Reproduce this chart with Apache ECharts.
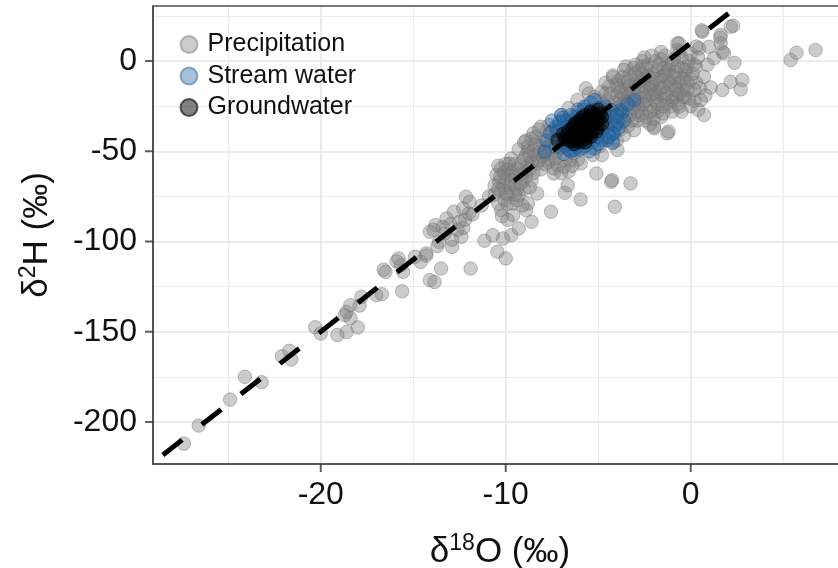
<!DOCTYPE html>
<html>
<head>
<meta charset="utf-8">
<script src="https://cdn.jsdelivr.net/npm/echarts@6/dist/echarts.min.js"></script>
<style>
html,body{margin:0;padding:0;background:#fff;}
#chart{width:838px;height:568px;}
</style>
</head>
<body>
<div id="chart"></div>
<script>
// ---- Axis ranges and tick values ----
const xLimits = [-29.07, 8.45];
const yLimits = [-223.3, 30.5];
const xMajorTicks = [-20, -10, 0];
const xMinorTicks = [-25, -15, -5, 5];
const yMajorTicks = [-200, -150, -100, -50, 0];
const yMinorTicks = [-175, -125, -75, -25, 25];

// ---- Reference water line (dashed): d2H = slope * d18O + intercept ----
const lineSlope = 8;
const lineIntercept = 10;

// ---- Series names ----
const seriesNames = ['Precipitation', 'Stream water', 'Groundwater'];

// ---- Precipitation samples [d18O, d2H] ----
const precipitation = [
  [-27.4,-212.0],[-26.6,-202.0],[-24.9,-187.6],[-24.1,-175.0],[-23.2,-178.0],[-22.1,-163.6],
  [-21.7,-160.6],[-21.6,-165.4],[-20.3,-147.5],[-20.0,-151.0],[-19.1,-151.8],[-18.6,-150.2],
  [-18.0,-147.6],[-18.7,-140.8],[-18.4,-142.5],[-18.6,-139.0],[-18.4,-135.3],[-17.9,-135.5],
  [-17.8,-130.7],[-17.0,-129.7],[-16.7,-129.2],[-15.6,-127.6],
  [-16.5,-116.8],[-16.6,-115.6],[-15.9,-111.0],[-15.65,-113.1],[-15.8,-109.4],[-15.55,-116.8],
  [-14.9,-108.5],[-14.6,-111.3],[-14.3,-106.6],[-14.3,-107.8],[-14.1,-121.4],[-13.85,-122.4],[-13.5,-115.0],
  [-14.1,-94.6],[-13.8,-90.9],[-13.9,-93.5],[-13.6,-100.2],[-13.7,-102.5],[-13.2,-87.2],[-13.0,-90.5],
  [-12.9,-103.0],[-12.9,-99.0],[-12.8,-83.5],[-12.5,-89.1],[-12.4,-97.4],[-12.3,-81.7],[-12.15,-75.2],
  [-11.95,-78.0],[-12.0,-84.5],[-12.2,-88.0],[-12.6,-93.5],[-12.3,-92.5],[-11.8,-85.0],[-13.3,-95.5],
  [-13.4,-92.0],[-11.9,-115.0],
  [-10.25,-59.5],[-9.9,-60.4],[-9.5,-64.2],[-9.1,-66.9],[-10.35,-66.9],[-10.25,-71.5],[-10.05,-77.1],
  [-9.3,-74.3],[-8.8,-78.9],[-8.3,-73.4],[-10.25,-82.6],[-9.6,-85.4],[-8.9,-82.6],[-9.3,-92.8],
  [-8.6,-89.1],[-9.7,-96.5],[-10.15,-98.3],[-10.7,-96.5],[-11.15,-99.6],[-10.45,-105.7],[-10.0,-109.4],
  [-7.55,-83.5],[-10.0,-65.0],[-9.8,-70.0],[-9.5,-68.5],[-9.9,-74.0],[-9.6,-79.0],[-10.5,-63.0],
  [-10.6,-69.0],[-9.7,-54.0],[-8.3,-56.7],[-7.9,-52.1],[-7.4,-62.3],[-8.9,-61.5],[-9.2,-57.0],
  [-8.6,-66.0],[-9.0,-71.0],[-10.9,-75.0],[-11.3,-80.0],
  [-10.4,-58.0],[-10.1,-62.0],[-9.8,-57.0],[-9.6,-61.0],[-9.4,-71.0],[-9.2,-63.0],[-10.1,-69.0],
  [-9.9,-79.0],[-9.4,-77.0],[-9.1,-80.0],[-8.7,-70.0],[-8.5,-62.0],[-8.8,-58.0],[-10.6,-74.0],
  [-10.4,-79.0],[-9.7,-66.0],[-10.2,-86.0],[-9.9,-88.0],
  [-10.3,-64.0],[-10.0,-57.0],[-9.7,-62.0],[-9.5,-57.0],[-9.3,-60.0],[-9.0,-54.0],[-8.8,-50.0],
  [-8.6,-56.0],[-8.4,-52.0],[-8.2,-47.0],[-8.0,-53.0],[-7.8,-48.0],[-7.7,-56.0],[-7.5,-51.0],
  [-9.2,-68.0],[-8.9,-64.0],[-8.7,-60.0],[-9.5,-74.0],[-10.0,-73.0],[-10.4,-71.0],[-9.3,-49.0],
  [-8.9,-44.0],[-8.5,-40.0],
  [-6.8,-73.0],[-6.65,-68.8],[-5.95,-76.7],[-5.1,-62.3],[-4.3,-66.9],[-3.25,-67.8],[-4.1,-80.8],
  [-4.25,-66.0],
  [-8.8,-47.5],[-8.35,-42.0],[-7.65,-35.5],[-7.55,-43.8],[-7.55,-54.9],[-7.2,-57.7],[-7.4,-59.5],
  [-6.85,-58.6],[-5.95,-56.7],[-6.1,-54.5],[-8.5,-50.0],[-8.0,-45.0],[-8.2,-55.0],[-7.8,-39.0],
  [-7.2,-50.0],[-6.5,-55.0],[-6.9,-47.5],[-6.3,-51.0],[-8.1,-60.0],[-7.0,-62.0],[-6.12,-21.6],
  [-5.67,-15.1],[-5.5,-18.0],[-6.6,-26.0],[-6.9,-33.0],[-7.3,-38.0],
  [-9.0,-45.0],[-8.7,-53.0],[-8.4,-46.0],[-8.1,-50.0],[-7.9,-57.0],[-7.7,-51.0],[-7.5,-39.0],
  [-7.3,-54.0],[-7.1,-42.0],[-6.8,-55.0],[-6.6,-61.0],[-6.4,-58.0],[-8.9,-52.0],[-8.6,-43.0],
  [-8.2,-38.0],[-8.1,-36.4],
  [-7.0,-30.0],[-6.7,-36.0],[-6.4,-31.0],[-6.2,-42.0],[-6.0,-28.0],[-5.8,-48.0],[-5.6,-25.0],
  [-5.4,-44.0],[-5.2,-33.0],[-5.0,-40.0],[-4.9,-47.0],[-4.7,-36.0],[-4.6,-44.0],[-4.4,-39.0],
  [-4.1,-35.0],[-4.0,-44.0],[-3.8,-38.0],[-5.3,-52.0],[-4.8,-52.0],[-6.6,-46.0],[-7.1,-48.0],[-7.6,-47.0],
  [-3.96,-49.3],[-4.23,-45.6],[-3.6,-41.0],[-3.06,-38.3],[-1.98,-36.4],[-1.26,-40.1],[-1.2,-39.0],[-1.98,-37.3],
  [-5.2,-20.0],[-5.0,-26.0],[-4.8,-17.0],[-4.7,-30.0],[-4.5,-22.0],[-4.4,-14.0],[-4.3,-34.0],[-4.2,-27.0],
  [-4.0,-19.0],[-3.9,-11.0],[-3.8,-31.0],[-3.7,-24.0],[-3.5,-16.0],[-3.4,-36.0],[-3.3,-8.0],
  [-3.3,-28.0],[-3.2,-21.0],[-3.0,-13.0],[-2.9,-33.0],[-2.8,-5.0],[-2.8,-25.0],[-2.7,-18.0],[-2.6,-29.0],
  [-2.5,-10.0],[-2.4,-22.0],[-2.3,-2.0],[-2.2,-35.0],[-2.2,-15.0],[-2.0,-27.0],[-2.0,-7.0],[-1.9,0.0],
  [-1.8,-20.0],[-1.7,-12.0],[-1.6,-31.0],[-1.5,-4.0],[-1.4,3.0],[-1.3,-24.0],[-1.2,-16.0],[-1.1,-8.0],
  [-1.0,-28.0],[-0.9,1.0],[-0.8,-20.0],[-0.7,-12.0],[-0.6,5.0],[-0.5,-4.0],[-0.4,-16.0],
  [-3.6,-19.0],[-3.1,-26.0],[-2.5,-14.0],[-2.1,-19.0],[-1.6,-9.0],[-1.2,-2.0],[-2.9,-9.0],[-3.5,-3.0],
  [-2.6,0.0],[-1.8,-28.0],[-2.4,-31.0],[-1.0,-20.0],[-0.3,-8.0],[-0.1,0.0],[-4.2,-9.0],[-4.6,-12.0],
  [-4.9,-22.0],[-4.6,-18.0],[-4.4,-26.0],[-4.1,-23.0],[-3.9,-15.0],[-3.8,-21.0],[-3.6,-12.0],[-3.6,-27.0],
  [-3.4,-20.0],[-3.3,-14.0],[-3.1,-4.0],[-3.1,-17.0],[-2.9,-22.0],[-2.7,-11.0],[-2.6,-7.0],[-2.5,-20.0],
  [-2.4,-4.0],[-2.3,-12.0],[-2.2,-25.0],[-2.1,-9.0],[-2.0,-16.0],[-1.9,-22.0],[-1.8,-5.0],[-1.7,-17.0],
  [-1.6,1.0],[-1.5,-14.0],[-1.4,-21.0],[-1.3,-6.0],[-1.2,-11.0],[-1.1,-25.0],[-1.0,-1.0],[-0.9,-14.0],
  [-0.8,-6.0],[-0.6,-18.0],[-0.5,2.0],[-0.4,-10.0],[-0.2,-3.0],[0.0,4.0],[0.1,-7.0],[0.3,8.0],
  [-3.9,-26.0],[-3.5,-31.0],[-3.2,-33.0],[-2.8,-30.0],[-2.5,-33.0],[-4.3,-30.0],[-4.7,-24.0],[-4.5,-29.0],
  [-4.2,-8.0],[-3.6,-5.0],[-3.0,-2.0],[-2.5,2.0],[-2.1,3.0],[-1.6,5.0],
  [-4.3,-18.0],[-4.0,-13.0],[-3.8,-17.0],[-3.7,-9.0],[-3.5,-23.0],[-3.4,-11.0],[-3.2,-16.0],[-3.0,-24.0],
  [-3.0,-7.0],[-2.8,-14.0],[-2.7,-21.0],[-2.6,-3.0],[-2.4,-17.0],[-2.3,-8.0],[-2.2,-28.0],[-2.1,-13.0],
  [-1.9,-10.0],[-1.9,-18.0],[-1.8,-24.0],[-1.7,-2.0],[-1.6,-15.0],[-1.5,-25.0],[-1.4,-8.0],[-1.3,-18.0],
  [-1.2,-5.0],[-1.1,-13.0],[-1.0,-22.0],[-0.9,-9.0],[-0.8,-16.0],[-0.7,-3.0],[-0.7,-24.0],[-0.5,-12.0],
  [-0.4,-20.0],[-0.3,-5.0],[-0.2,-16.0],[0.0,-10.0],[0.2,-2.0],[0.3,-12.0],[-2.9,-28.0],[-3.3,-30.0],
  [-2.0,-32.0],[-1.5,-29.0],[-2.6,-24.0],[-3.7,-34.0],
  [0.2,-22.0],[0.5,-15.0],[-0.3,-20.0],[0.0,-25.0],[0.4,-27.0],[-0.5,-28.0],[0.8,-19.0],
  [-0.63,9.8],[0.45,7.0],[0.99,7.9],[0.63,16.2],[1.62,14.4],[1.62,9.8],[1.71,5.2],[2.16,19.0],
  [2.3,19.5],[2.37,-1.0],[0.27,-3.2],[0.72,-8.7],[1.08,-14.6],[1.71,-16.1],[2.16,-11.5],[2.79,-10.5],
  [2.7,-15.7],[0.54,-21.6],[-0.09,-20.7],[-0.63,-25.3],[0.72,-29.9],[1.26,1.5],[-0.72,6.1],[1.8,4.3],
  [0.6,17.0],[1.6,13.0],[0.4,2.0],[0.9,-2.0],[-0.2,-12.0],[0.2,-16.0],[-0.72,9.8],
  [5.4,0.6],[5.72,4.6],[6.75,6.1]
];

// ---- Stream water samples [d18O, d2H] ----
const streamWater = [
  [-7.0,-29.9],[-6.9,-31.5],[-7.9,-50.3],[-6.85,-51.5],[-6.6,-49.0],[-5.2,-48.4],[-4.8,-43.8],
  [-4.5,-36.4],[-4.15,-40.1],[-6.1,-47.5],[-5.75,-25.3],[-6.1,-27.0],[-5.2,-21.6],[-6.65,-40.1],
  [-5.6,-43.8],[-3.05,-21.6],[-3.8,-27.2],[-4.6,-25.3],[-3.9,-37.3],[-4.3,-27.2],[-3.7,-28.1],
  [-5.75,-44.7],[-6.3,-46.6],[-4.5,-43.8],[-3.95,-33.6],[-5.0,-30.0],[-4.7,-33.0],[-5.4,-27.0],
  [-6.4,-33.0],[-7.3,-36.5],[-7.6,-40.0],[-5.9,-30.5],[-4.4,-31.0],[-5.0,-46.0],[-6.9,-45.0],
  [-7.3,-47.5],[-4.2,-45.0],[-5.5,-50.0],[-7.8,-44.0],[-4.05,-35.5],[-4.23,-40.1],[-6.3,-49.3],
  [-7.5,-33.0],[-7.2,-39.0],[-6.9,-37.0],[-6.7,-33.0],[-6.5,-30.0],[-6.8,-47.0],[-6.5,-50.0],
  [-6.0,-49.0],[-5.7,-47.0],[-5.3,-45.0],[-5.0,-42.0],[-4.8,-39.0],[-4.6,-30.0],[-4.9,-26.0],
  [-5.4,-23.0],[-5.8,-27.0],[-3.4,-24.0],[-3.6,-33.0],[-4.0,-30.0],[-6.2,-31.0],[-7.1,-34.0],[-4.4,-42.0]
];

// ---- Groundwater samples [d18O, d2H] ----
const groundwater = [
  [-6.6,-44.0],[-6.5,-42.0],[-6.4,-44.5],[-6.3,-40.0],[-6.3,-43.0],[-6.2,-38.0],[-6.1,-41.0],
  [-6.1,-44.0],[-6.0,-36.0],[-6.0,-39.0],[-5.9,-42.0],[-5.9,-34.0],[-5.8,-37.0],[-5.8,-40.0],
  [-5.7,-33.0],[-5.7,-43.0],[-5.6,-35.0],[-5.6,-38.0],[-5.5,-41.0],[-5.5,-31.0],[-5.4,-34.0],
  [-5.4,-37.0],[-5.3,-39.0],[-5.2,-32.0],[-5.2,-35.0],[-5.1,-30.0],[-5.0,-33.0],[-5.0,-37.0],
  [-4.9,-29.0],[-6.4,-37.0],[-6.7,-41.0],[-5.3,-29.0],[-6.2,-34.0],[-7.2,-43.8],
  [-6.8,-43.0],[-6.9,-40.5],[-6.6,-38.5],[-6.3,-35.5],[-6.0,-33.0],[-5.7,-30.0],[-5.4,-28.0],
  [-5.0,-27.0],[-4.8,-31.0],[-4.8,-35.0],[-5.1,-39.0],[-5.4,-42.0],[-5.7,-45.0],[-6.0,-45.0],
  [-6.3,-46.0],[-5.9,-31.5],[-5.6,-40.5],[-6.1,-36.5],[-5.3,-36.0],[-5.8,-35.5]
];

const FONT = 'Liberation Sans, Arial, sans-serif';
const chart = echarts.init(document.getElementById('chart'), null, {renderer: 'canvas'});

const lineData = xLimits.map(x => [x, lineSlope * x + lineIntercept]);
// Tick marks placed at the panel edges through the axis scales
const xTickData = xMajorTicks.map(v => [v, yLimits[0]]);
const yTickData = yMajorTicks.map(v => [xLimits[0], v]);

const panel = {left: 153, top: 6, right: -9, bottom: 104};
const tickLen = 8;
const base = {containLabel: false, outerBoundsMode: 'none'};
const axisTitleRich = () => ({
  a: {fontFamily: FONT, fontSize: 35, color: '#111', lineHeight: 40},
  s: {fontFamily: FONT, fontSize: 23, color: '#111', lineHeight: 8, verticalAlign: 'top'}
});
const lineOnlyAxis = (gi, lim, vals, color, width) => ({
  gridIndex: gi, type: 'value', min: lim[0], max: lim[1],
  axisLine: {show: false, onZero: false},
  axisTick: {show: false, customValues: vals},
  axisLabel: {show: false, customValues: vals},
  splitLine: {show: true, lineStyle: {color: color, width: width}}
});

const option = {
  backgroundColor: '#ffffff',
  animation: false,
  grid: [
    Object.assign({show: true, borderColor: '#4d4d4d', borderWidth: 1.6, backgroundColor: 'transparent', z: 2}, base, panel),
    Object.assign({show: false, z: 1}, base, panel)
  ],
  legend: {
    orient: 'vertical', left: 174.5, top: 27,
    itemWidth: 17, itemHeight: 17, itemGap: 6.5,
    icon: 'circle',
    data: seriesNames,
    textStyle: {fontFamily: FONT, fontSize: 25, color: '#111', lineHeight: 24, padding: [0, 0, 0, 5]}
  },
  xAxis: [
    {
      gridIndex: 0, type: 'value', min: xLimits[0], max: xLimits[1], interval: 10,
      axisLine: {show: true, onZero: false, lineStyle: {color: '#4d4d4d', width: 1.6}},
      axisTick: {show: false, customValues: xMajorTicks},
      axisLabel: {show: true, customValues: xMajorTicks, margin: 15, fontFamily: FONT, fontSize: 32, color: '#111'},
      splitLine: {show: true, lineStyle: {color: '#ebebeb', width: 2}},
      name: '{a|δ}{s|18}{a|O (‰)}',
      nameLocation: 'middle', nameGap: 68,
      nameTextStyle: {rich: axisTitleRich()}
    },
    lineOnlyAxis(1, xLimits, xMinorTicks, '#ebebeb', 1.1)
  ],
  yAxis: [
    {
      gridIndex: 0, type: 'value', min: yLimits[0], max: yLimits[1], interval: 50,
      axisLine: {show: true, onZero: false, lineStyle: {color: '#4d4d4d', width: 1.6}},
      axisTick: {show: false, customValues: yMajorTicks},
      axisLabel: {show: true, customValues: yMajorTicks, margin: 16, fontFamily: FONT, fontSize: 32, color: '#111'},
      splitLine: {show: true, lineStyle: {color: '#ebebeb', width: 2}},
      name: '{a|δ}{s|2}{a|H (‰)}',
      nameLocation: 'middle', nameGap: 96, nameRotate: 90,
      nameTextStyle: {rich: axisTitleRich()}
    },
    lineOnlyAxis(1, yLimits, yMinorTicks, '#ebebeb', 1.1)
  ],
  series: [
    {
      name: seriesNames[0], type: 'scatter', data: precipitation, symbol: 'circle', symbolSize: 13.5,
      itemStyle: {color: 'rgba(128,128,128,0.5)', borderColor: 'rgba(110,110,110,0.55)', borderWidth: 1},
      emphasis: {disabled: true}, z: 2
    },
    {
      name: seriesNames[1], type: 'scatter', data: streamWater, symbol: 'circle', symbolSize: 13.5,
      itemStyle: {color: 'rgba(31,100,165,0.5)', borderColor: 'rgba(25,80,135,0.55)', borderWidth: 1},
      emphasis: {disabled: true}, z: 3
    },
    {
      name: seriesNames[2], type: 'scatter', data: groundwater, symbol: 'circle', symbolSize: 13.5,
      itemStyle: {color: 'rgba(0,0,0,0.62)', borderColor: 'rgba(0,0,0,0.75)', borderWidth: 1},
      emphasis: {disabled: true}, z: 4
    },
    {
      name: 'line', type: 'line', data: lineData, showSymbol: false, symbol: 'none', clip: true,
      lineStyle: {color: '#000', width: 5, type: [24.5, 25], dashOffset: 37, cap: 'butt'},
      emphasis: {disabled: true}, z: 5, silent: true
    },
    {
      name: 'xTicks', type: 'scatter', data: xTickData, clip: false, silent: true,
      symbol: 'rect', symbolSize: [2, tickLen], symbolOffset: [0, tickLen / 2],
      itemStyle: {color: '#333333'}, emphasis: {disabled: true}, z: 6
    },
    {
      name: 'yTicks', type: 'scatter', data: yTickData, clip: false, silent: true,
      symbol: 'rect', symbolSize: [tickLen, 2], symbolOffset: [-tickLen / 2, 0],
      itemStyle: {color: '#333333'}, emphasis: {disabled: true}, z: 6
    }
  ]
};
chart.setOption(option);
</script>
</body>
</html>
